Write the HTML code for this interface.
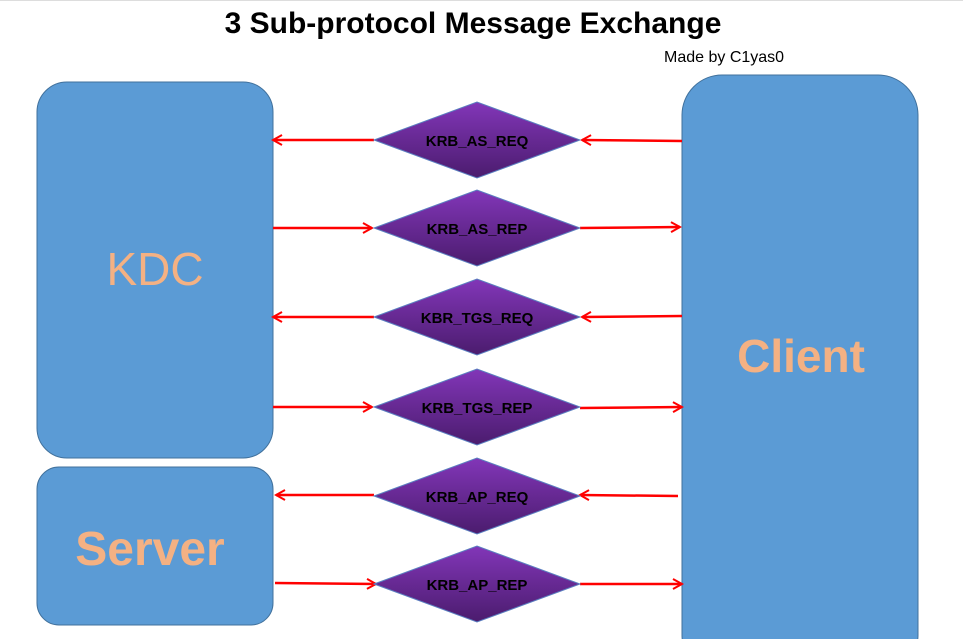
<!DOCTYPE html>
<html><head><meta charset="utf-8"><style>
body{margin:0;background:#fff;width:963px;height:639px;overflow:hidden;font-family:"Liberation Sans",sans-serif}
</style></head><body>
<svg width="963" height="639" xmlns="http://www.w3.org/2000/svg">
<defs>
<linearGradient id="g" x1="0" y1="0" x2="0" y2="1">
<stop offset="0" stop-color="#8236B8"/><stop offset="1" stop-color="#4B1C6E"/>
</linearGradient>
<marker id="a" markerWidth="12" markerHeight="12" refX="10" refY="6" orient="auto" markerUnits="userSpaceOnUse">
<path d="M1,1 L10,6 L1,11" fill="none" stroke="#f00" stroke-width="2"/>
</marker>
</defs>
<rect x="0" y="0" width="963" height="1" fill="#ddd"/>
<text x="473" y="33" text-anchor="middle" font-size="30" font-weight="bold" fill="#000">3 Sub-protocol Message Exchange</text>
<text x="664" y="62" font-size="16" fill="#000">Made by C1yas0</text>
<rect x="37" y="82" width="236" height="376" rx="30" fill="#5B9BD5" stroke="#41719C" stroke-width="1"/>
<rect x="37" y="467" width="236" height="158" rx="22" fill="#5B9BD5" stroke="#41719C" stroke-width="1"/>
<rect x="682" y="75" width="236" height="600" rx="40" fill="#5B9BD5" stroke="#41719C" stroke-width="1"/>
<text x="155" y="285" text-anchor="middle" font-size="46" fill="#F4B183">KDC</text>
<text x="150" y="565" text-anchor="middle" font-size="48" font-weight="bold" fill="#F4B183">Server</text>
<text x="801" y="372" text-anchor="middle" font-size="46" font-weight="bold" fill="#F4B183">Client</text>
<g stroke="#f00" stroke-width="2.5" marker-end="url(#a)">
<line x1="374" y1="140" x2="273" y2="140"/><line x1="682" y1="141" x2="582" y2="140"/>
<line x1="273" y1="228" x2="372" y2="228"/><line x1="580" y1="228" x2="680" y2="227"/>
<line x1="374" y1="317" x2="273" y2="317"/><line x1="682" y1="316" x2="582" y2="317"/>
<line x1="273" y1="407" x2="372" y2="407"/><line x1="580" y1="408" x2="682" y2="407"/>
<line x1="374" y1="495" x2="276" y2="495"/><line x1="678" y1="496" x2="580" y2="495"/>
<line x1="275" y1="583" x2="376" y2="584"/><line x1="580" y1="584" x2="682" y2="584"/>
</g>
<g stroke="#5B7FC0" stroke-width="1" fill="url(#g)">
<polygon points="374,140 477,102 580,140 477,178"/>
<polygon points="374,228 477,190 580,228 477,266"/>
<polygon points="374,317 477,279 580,317 477,355"/>
<polygon points="374,407 477,369 580,407 477,445"/>
<polygon points="374,496 477,458 580,496 477,534"/>
<polygon points="374,584 477,546 580,584 477,622"/>
</g>
<g font-size="15" font-weight="bold" fill="#000" text-anchor="middle">
<text x="477" y="146">KRB_AS_REQ</text>
<text x="477" y="234">KRB_AS_REP</text>
<text x="477" y="323">KBR_TGS_REQ</text>
<text x="477" y="413">KRB_TGS_REP</text>
<text x="477" y="502">KRB_AP_REQ</text>
<text x="477" y="590">KRB_AP_REP</text>
</g>
</svg>
</body></html>
